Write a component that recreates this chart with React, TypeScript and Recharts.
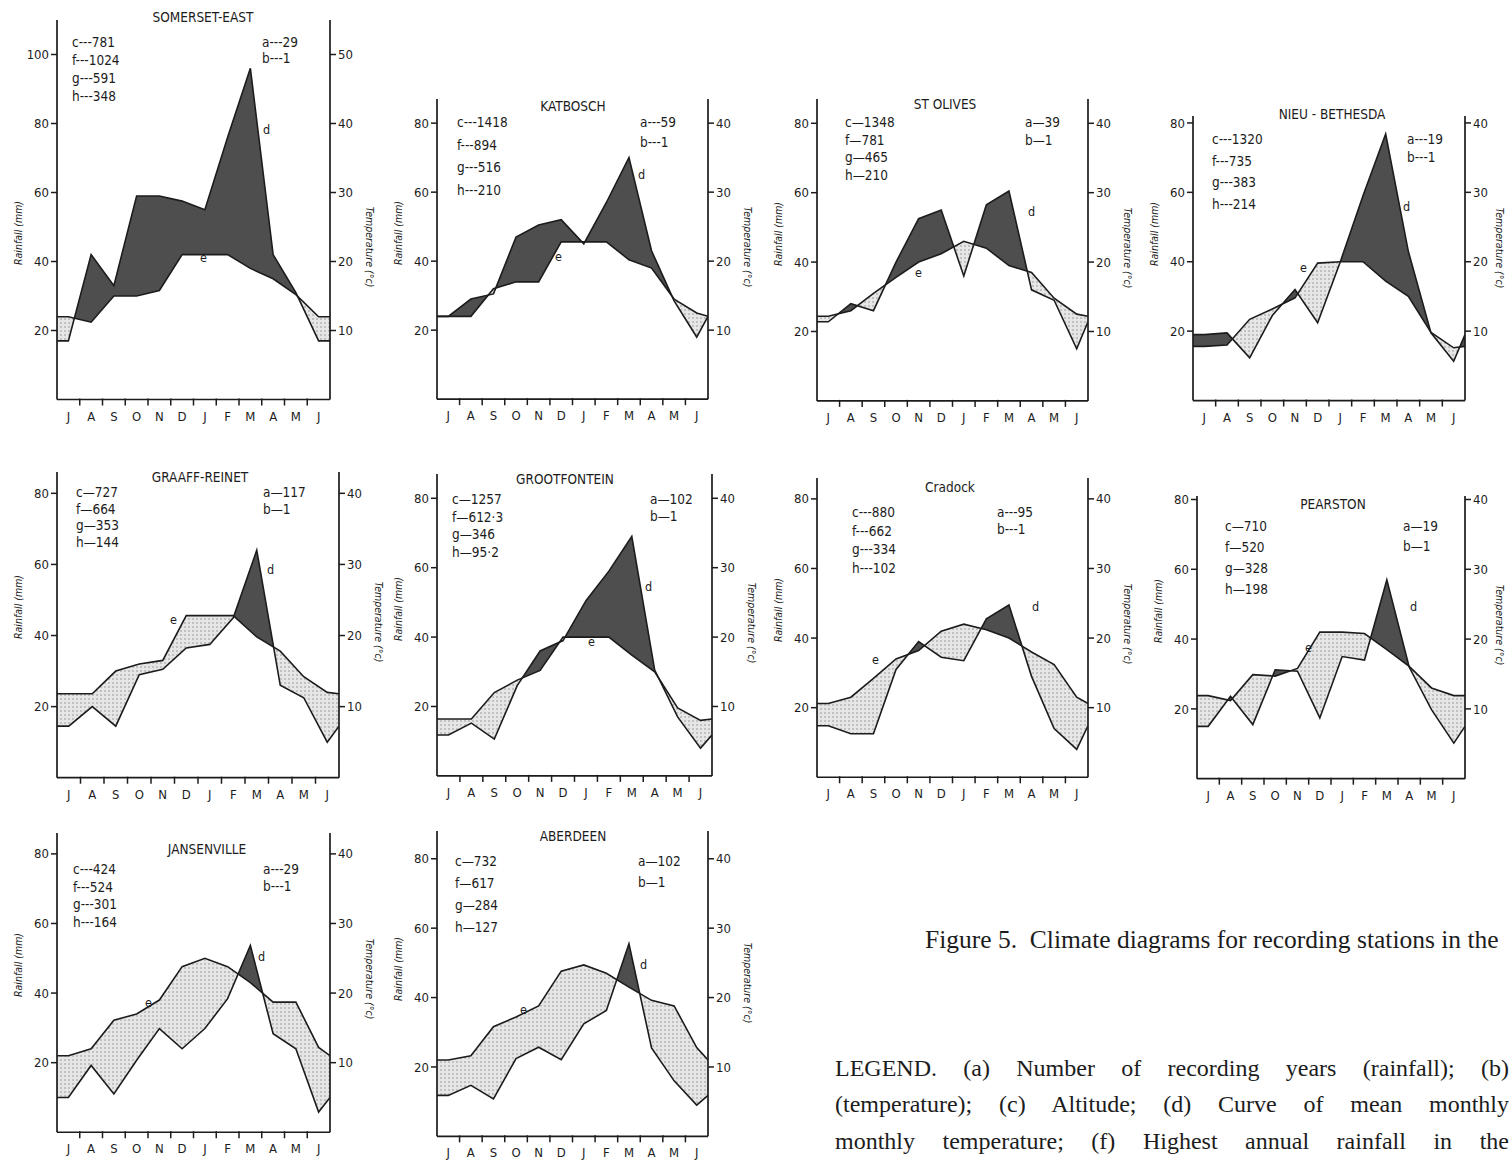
import React from 'react';
import { ComposedChart, Area, Line, XAxis, YAxis } from 'recharts';

// months run July -> June
const MONTHS = ['J', 'A', 'S', 'O', 'N', 'D', 'J', 'F', 'M', 'A', 'M', 'J'];
const RAIN_TICKS = [20, 40, 60, 80, 100];
const TEMP_TICKS = [10, 20, 30, 40, 50];
const X_TICKS = [0.5, 1, 1.5, 2, 2.5, 3, 3.5, 4, 4.5, 5, 5.5, 6, 6.5, 7, 7.5, 8, 8.5, 9, 9.5, 10, 10.5, 11, 11.5];

const STATIONS = ['SOMERSET-EAST', 'KATBOSCH', 'ST OLIVES', 'NIEU - BETHESDA', 'GRAAFF-REINET', 'GROOTFONTEIN', 'Cradock', 'PEARSTON', 'JANSENVILLE', 'ABERDEEN'];
const ALTITUDE = ['781', '1418', '1348', '1320', '727', '1257', '880', '710', '424', '732'];
const F_VALUES = ['1024', '894', '781', '735', '664', '612·3', '662', '520', '524', '617'];
const G_VALUES = ['591', '516', '465', '383', '353', '346', '334', '328', '301', '284'];
const H_VALUES = ['348', '210', '210', '214', '144', '95·2', '102', '198', '164', '127'];
const A_YEARS = ['29', '59', '39', '19', '117', '102', '95', '19', '29', '102'];
const B_YEARS = ['1', '1', '1', '1', '1', '1', '1', '1', '1', '1'];

// rainfall (mm) and temperature (°C), July..June
const somersetRain = [17, 42, 33, 59, 59, 57.5, 55, 76, 96, 42, 31, 17];
const somersetTemp = [12, 11.2, 15, 15, 15.8, 21, 21, 21, 19, 17.5, 15.2, 12];
const katboschRain = [24, 29, 30.5, 47, 50.5, 52, 45, 57, 70, 43, 28.5, 18];
const katboschTemp = [12, 12, 16, 17, 17, 22.8, 22.8, 22.8, 20.2, 19, 14.5, 12.5];
const stOlivesRain = [22.8, 28, 26, 40, 52.5, 55, 36, 56.5, 60.5, 32, 29, 15];
const stOlivesTemp = [12.2, 13, 15.5, 17.8, 20, 21.2, 23, 22, 19.5, 18.5, 14.8, 12.5];
const nieuRain = [19, 19.5, 12.3, 24.5, 32, 22.4, 40, 59, 76.8, 43, 19.5, 11.3];
const nieuTemp = [7.8, 8, 11.7, 13.2, 14.8, 19.8, 20, 20, 17.2, 15, 9.8, 7.6];
const graaffRain = [14.5, 20, 14.5, 29, 30.5, 36.5, 37.5, 45, 64, 26, 22.5, 10];
const graaffTemp = [11.8, 11.8, 15, 16, 16.5, 22.8, 22.8, 22.8, 19.8, 17.8, 14.2, 12];
const grootRain = [11.8, 15.2, 10.6, 26, 36, 39, 50.5, 59, 69, 30.5, 17, 8];
const grootTemp = [8.2, 8.2, 12, 13.8, 15.2, 20, 20, 20, 17.4, 15, 9.8, 8];
const cradockRain = [14.8, 12.5, 12.5, 31, 39, 34.5, 33.5, 45.5, 49.5, 29, 14, 8];
const cradockTemp = [10.6, 11.5, 14.2, 17, 18.2, 21, 22, 21.2, 20, 18, 16.2, 11.5];
const pearstonRain = [15, 23.6, 15.5, 31.2, 30.8, 17.4, 35, 34, 57, 32, 19.8, 10.2];
const pearstonTemp = [11.9, 11.2, 14.9, 14.7, 15.8, 21, 21, 20.8, 18.5, 16.1, 13, 11.9];
const jansenRain = [10, 19.2, 11, 20.7, 29.8, 24, 29.8, 38.4, 53.7, 28.3, 24, 5.8];
const jansenTemp = [11, 12, 16.1, 17, 19, 23.8, 25, 23.8, 21.5, 18.7, 18.7, 12.2];
const aberdeenRain = [11.8, 14.7, 10.8, 22.4, 25.7, 22.1, 32.4, 36.3, 55.5, 25.5, 16, 9];
const aberdeenTemp = [11, 11.6, 15.8, 17.2, 18.8, 23.8, 24.7, 23.5, 21.5, 19.6, 18.8, 12.8];

const RAIN = [somersetRain, katboschRain, stOlivesRain, nieuRain, graaffRain, grootRain, cradockRain, pearstonRain, jansenRain, aberdeenRain];
const TEMP = [somersetTemp, katboschTemp, stOlivesTemp, nieuTemp, graaffTemp, grootTemp, cradockTemp, pearstonTemp, jansenTemp, aberdeenTemp];

// page layout of each diagram (plot box in page pixels, text spots)
const PANELS = [
  { L: 57, R: 330, zeroY: 399, s: 3.45, maxR: 110, title: [203, 18], info: [72, 43, 18], ab: [262, 43, 16], d: [263, 130], e: [200, 258], dash: '---' },
  { L: 437, R: 708, zeroY: 399, s: 3.45, maxR: 87, title: [573, 107], info: [457, 123, 22.5], ab: [640, 123, 20], d: [638, 175], e: [555, 257], dash: '---' },
  { L: 817, R: 1088, zeroY: 401, s: 3.47, maxR: 87, title: [945, 105], info: [845, 123, 17.7], ab: [1025, 123, 18], d: [1028, 212], e: [915, 273], dash: '—' },
  { L: 1193, R: 1465, zeroY: 401, s: 3.47, maxR: 82, title: [1332, 115], info: [1212, 140, 21.5], ab: [1407, 140, 18], d: [1403, 207], e: [1300, 268], dash: '---' },
  { L: 57, R: 339, zeroY: 778, s: 3.555, maxR: 86, title: [200, 478], info: [76, 493, 16.5], ab: [263, 493, 17], d: [267, 570], e: [170, 620], dash: '—' },
  { L: 437, R: 712, zeroY: 776, s: 3.47, maxR: 87, title: [565, 480], info: [452, 500, 17.7], ab: [650, 500, 17], d: [645, 587], e: [588, 642], dash: '—' },
  { L: 817, R: 1088, zeroY: 777, s: 3.48, maxR: 86, title: [950, 488], info: [852, 513, 18.5], ab: [997, 513, 17], d: [1032, 607], e: [872, 660], dash: '---' },
  { L: 1197, R: 1465, zeroY: 779, s: 3.49, maxR: 81, title: [1333, 505], info: [1225, 527, 21], ab: [1403, 527, 20], d: [1410, 607], e: [1305, 648], dash: '—' },
  { L: 57, R: 330, zeroY: 1132, s: 3.48, maxR: 86, title: [207, 850], info: [73, 870, 17.5], ab: [263, 870, 17], d: [258, 957], e: [145, 1003], dash: '---' },
  { L: 437, R: 708, zeroY: 1136, s: 3.47, maxR: 88, title: [573, 837], info: [455, 862, 22], ab: [638, 862, 21], d: [640, 965], e: [520, 1010], dash: '—' },
];

const FONT = '"DejaVu Sans Condensed", "Liberation Sans Narrow", "Roboto Condensed", Arial, sans-serif';
const INK = '#1c1c1c';
const AXW = 45;
const TOP = 10;
const XH = 30;

type Row = { x: number; rain?: number; temp?: number; wet: [number, number]; dry: [number, number] };

// rows for the chart; 20 mm rain = 10 °C, fills split where the two curves cross
function buildRows(rain: number[], temp: number[]): Row[] {
  const pts = [
    { x: 0, r: rain[0], t: temp[0] },
    ...rain.map((r, i) => ({ x: i + 0.5, r, t: temp[i] })),
    { x: 12, r: rain[0], t: temp[0] },
  ];
  const fill = (x: number, r: number, t2: number) => ({
    x,
    wet: [t2, Math.max(r, t2)] as [number, number],
    dry: [r, Math.max(r, t2)] as [number, number],
  });
  const rows: Row[] = [];
  pts.forEach((p, i) => {
    if (i > 0) {
      const q = pts[i - 1];
      const da = q.r - 2 * q.t;
      const db = p.r - 2 * p.t;
      if (da * db < 0) {
        const k = da / (da - db);
        const r = q.r + k * (p.r - q.r);
        rows.push(fill(q.x + k * (p.x - q.x), r, r));
      }
    }
    rows.push({ ...fill(p.x, p.r, 2 * p.t), rain: p.r, temp: p.t });
  });
  return rows;
}

const MonthTick = (props: any) => {
  const { x, y, payload } = props;
  const v = payload.value;
  if (Number.isInteger(v)) {
    return <line x1={x} x2={x} y1={y - 1} y2={y + 6} stroke={INK} strokeWidth={1.5} />;
  }
  return (
    <text x={x} y={y + 21} textAnchor="middle" fontSize={13} fill={INK} fontFamily={FONT}>
      {MONTHS[Math.floor(v)]}
    </text>
  );
};

const txt = (x: number, y: number, s: string, extra: React.CSSProperties = {}) => (
  <div
    key={`${s}-${x}-${y}`}
    style={{ position: 'absolute', left: x, top: y, transform: 'translate(0,-50%)', whiteSpace: 'nowrap', fontFamily: FONT, fontSize: 13.5, color: INK, lineHeight: 1, ...extra }}
  >
    {s}
  </div>
);

function Panel({ i }: { i: number }) {
  const p = PANELS[i];
  const rows = buildRows(RAIN[i], TEMP[i]);
  const plotH = p.maxR * p.s;
  const W = p.R - p.L + 2 * AXW;
  const H = plotH + TOP + XH;
  const axisLine = { stroke: INK, strokeWidth: 1.7 };
  const tickLine = { stroke: INK, strokeWidth: 1.5 };
  const tick = { fill: INK, fontSize: 13, fontFamily: FONT };
  const dash = p.dash;
  return (
    <>
      <div style={{ position: 'absolute', left: p.L - AXW, top: p.zeroY - plotH - TOP }}>
        <ComposedChart width={W} height={H} data={rows} margin={{ top: TOP, right: 0, bottom: 0, left: 0 }}>
          <XAxis
            dataKey="x"
            type="number"
            domain={[0, 12]}
            ticks={X_TICKS}
            interval={0}
            allowDataOverflow
            height={XH}
            tickLine={false}
            tickSize={0}
            tickMargin={0}
            axisLine={axisLine}
            tick={(tp: any) => <MonthTick {...tp} />}
          />
          <YAxis
            yAxisId="r"
            domain={[0, p.maxR]}
            allowDataOverflow
            ticks={RAIN_TICKS.filter((v) => v <= p.maxR)}
            interval={0}
            width={AXW}
            axisLine={axisLine}
            tickLine={tickLine}
            tick={tick}
          />
          <YAxis
            yAxisId="t"
            orientation="right"
            domain={[0, p.maxR / 2]}
            allowDataOverflow
            ticks={TEMP_TICKS.filter((v) => v <= p.maxR / 2)}
            interval={0}
            width={AXW}
            axisLine={axisLine}
            tickLine={tickLine}
            tick={tick}
          />
          <Area yAxisId="r" dataKey="wet" type="linear" stroke="none" fill="#4e4e4e" fillOpacity={1} isAnimationActive={false} />
          <Area yAxisId="r" dataKey="dry" type="linear" stroke="none" fill="url(#dots)" fillOpacity={1} isAnimationActive={false} />
          <Line yAxisId="r" dataKey="rain" type="linear" stroke={INK} strokeWidth={1.6} dot={false} connectNulls isAnimationActive={false} />
          <Line yAxisId="t" dataKey="temp" type="linear" stroke={INK} strokeWidth={1.6} dot={false} connectNulls isAnimationActive={false} />
        </ComposedChart>
      </div>
      {txt(p.title[0], p.title[1], STATIONS[i], { transform: 'translate(-50%,-50%)', fontSize: 13.5 })}
      {[`c${dash}${ALTITUDE[i]}`, `f${dash}${F_VALUES[i]}`, `g${dash}${G_VALUES[i]}`, `h${dash}${H_VALUES[i]}`].map((s, k) =>
        txt(p.info[0], p.info[1] + k * p.info[2], s)
      )}
      {[`a${dash}${A_YEARS[i]}`, `b${dash}${B_YEARS[i]}`].map((s, k) => txt(p.ab[0], p.ab[1] + k * p.ab[2], s))}
      {txt(p.d[0], p.d[1], 'd', { fontSize: 12.5 })}
      {txt(p.e[0], p.e[1], 'e', { fontSize: 12.5 })}
      {txt(p.L - 39, p.zeroY - 48 * p.s, 'Rainfall (mm)', { transform: 'translate(-50%,-50%) rotate(-90deg)', fontSize: 10.5, fontStyle: 'italic' })}
      {txt(Math.min(p.R + 40, 1500), p.zeroY - 44 * p.s, 'Temperature (°c)', { transform: 'translate(-50%,-50%) rotate(90deg)', fontSize: 10.5, fontStyle: 'italic' })}
    </>
  );
}

const SERIF = '"Liberation Serif", "Times New Roman", serif';
const LEGEND_LINES = [
  'LEGEND. (a) Number of recording years (rainfall); (b)',
  '(temperature); (c) Altitude; (d) Curve of mean monthly',
  'monthly temperature; (f) Highest annual rainfall in the',
];
const LEGEND_Y = [1068, 1104, 1141];

export default function App() {
  return (
    <div style={{ position: 'absolute', left: 0, top: 0, width: 1509, height: 1161, overflow: 'hidden', background: '#fff' }}>
      <svg width={0} height={0} style={{ position: 'absolute' }}>
        <defs>
          <pattern id="dots" width="4" height="4" patternUnits="userSpaceOnUse">
            <rect width="4" height="4" fill="#e6e6e6" />
            <circle cx="1" cy="1" r="0.75" fill="#8a8a8a" />
          </pattern>
        </defs>
      </svg>
      {PANELS.map((_, i) => (
        <Panel key={i} i={i} />
      ))}
      <div style={{ position: 'absolute', left: 925, top: 940, transform: 'translate(0,-50%)', fontFamily: SERIF, fontSize: 25.5, whiteSpace: 'nowrap', color: INK }}>
        Figure 5.&nbsp; Climate diagrams for recording stations in the
      </div>
      {LEGEND_LINES.map((s, k) => (
        <div
          key={k}
          style={{ position: 'absolute', left: 835, width: 674, top: LEGEND_Y[k], transform: 'translate(0,-50%)', fontFamily: SERIF, fontSize: 24, lineHeight: 1.1, color: INK, textAlign: 'justify', textAlignLast: 'justify', whiteSpace: 'nowrap' }}
        >
          {s}
        </div>
      ))}
    </div>
  );
}
